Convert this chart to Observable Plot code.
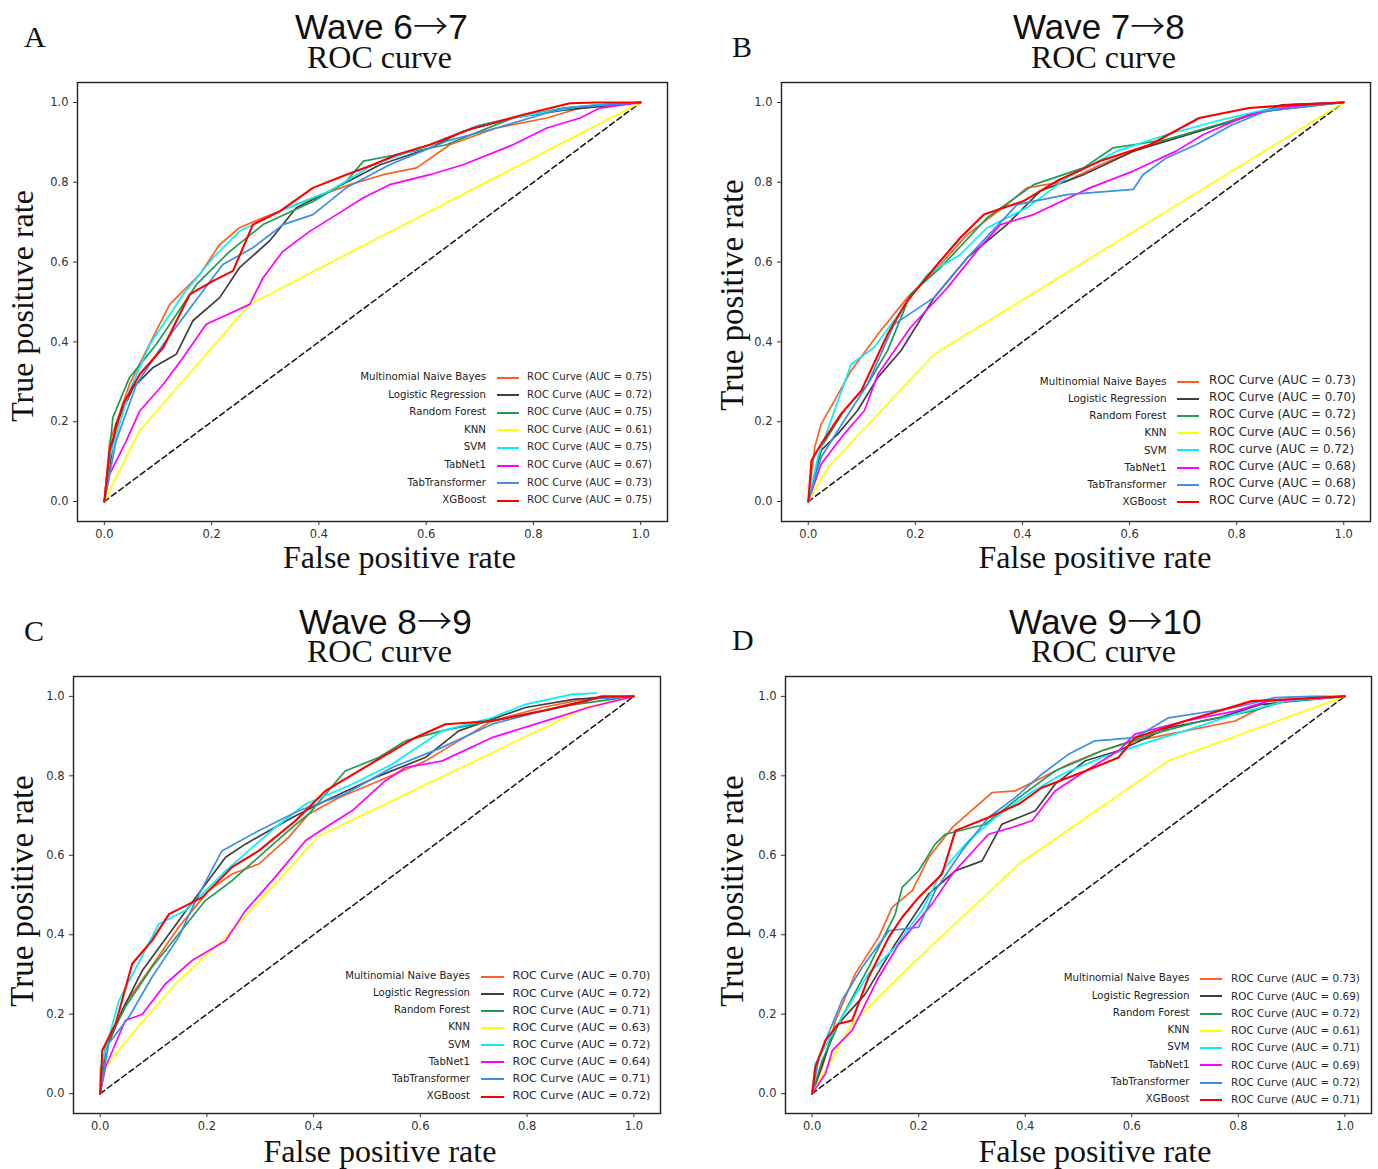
<!DOCTYPE html>
<html><head><meta charset="utf-8">
<script src="https://cdn.jsdelivr.net/npm/d3@7"></script>
<script src="https://cdn.jsdelivr.net/npm/@observablehq/plot@0.6"></script>
<style>
body{margin:0;background:#fff;}
#root{position:relative;width:1378px;height:1169px;overflow:hidden;background:#fff;}
.abs{position:absolute;white-space:nowrap;line-height:1;}
.big{line-height:0.75;}
.serif{font-family:"Liberation Serif","Times New Roman",serif;color:#111;}
.sans{font-family:"Liberation Sans",Arial,sans-serif;color:#111;}
.arrow{font-family:"Noto Sans CJK SC","Noto Sans CJK JP",sans-serif;font-weight:300;}
.leg{font-family:"DejaVu Sans",Verdana,sans-serif;color:#222;}
</style></head>
<body><div id="root"></div>
<script>
// ---------------- data ----------------
const models = ["Multinomial Naive Bayes","Logistic Regression","Random Forest","KNN","SVM","TabNet1","TabTransformer","XGBoost"];
const modelColors = ["#ff5f1f","#3f3f3f","#1e9c56","#ffff00","#00f0ff","#ff00ff","#3a8fe6","#ff0000"];
const tickValues = [0,0.2,0.4,0.6,0.8,1.0];
const chanceLine = [[0,0],[1,1]];

const titleParts = [["Wave 6","7"],["Wave 7","8"],["Wave 8","9"],["Wave 9","10"]];

const legendA = ["ROC Curve (AUC = 0.75)","ROC Curve (AUC = 0.72)","ROC Curve (AUC = 0.75)","ROC Curve (AUC = 0.61)","ROC Curve (AUC = 0.75)","ROC Curve (AUC = 0.67)","ROC Curve (AUC = 0.73)","ROC Curve (AUC = 0.75)"];
const legendB = ["ROC Curve (AUC = 0.73)","ROC Curve (AUC = 0.70)","ROC Curve (AUC = 0.72)","ROC Curve (AUC = 0.56)","ROC curve (AUC = 0.72)","ROC Curve (AUC = 0.68)","ROC Curve (AUC = 0.68)","ROC Curve (AUC = 0.72)"];
const legendC = ["ROC Curve (AUC = 0.70)","ROC Curve (AUC = 0.72)","ROC Curve (AUC = 0.71)","ROC Curve (AUC = 0.63)","ROC Curve (AUC = 0.72)","ROC Curve (AUC = 0.64)","ROC Curve (AUC = 0.71)","ROC Curve (AUC = 0.72)"];
const legendD = ["ROC Curve (AUC = 0.73)","ROC Curve (AUC = 0.69)","ROC Curve (AUC = 0.72)","ROC Curve (AUC = 0.61)","ROC Curve (AUC = 0.71)","ROC Curve (AUC = 0.69)","ROC Curve (AUC = 0.72)","ROC Curve (AUC = 0.71)"];

// [FPR, TPR] points per model, in model order
const rocA = [
 [[0,0],[0.01,0.15],[0.047,0.294],[0.097,0.428],[0.122,0.494],[0.178,0.569],[0.215,0.644],[0.252,0.686],[0.296,0.711],[0.389,0.761],[0.458,0.794],[0.52,0.819],[0.582,0.836],[0.644,0.894],[0.731,0.936],[0.825,0.961],[0.887,0.986],[1,1]],
 [[0,0],[0.022,0.194],[0.054,0.286],[0.091,0.336],[0.134,0.369],[0.165,0.453],[0.215,0.511],[0.252,0.586],[0.308,0.653],[0.358,0.736],[0.42,0.778],[0.514,0.844],[0.607,0.886],[0.669,0.928],[0.762,0.961],[0.856,0.981],[1,1]],
 [[0,0],[0.016,0.211],[0.047,0.311],[0.097,0.394],[0.172,0.544],[0.234,0.627],[0.296,0.694],[0.389,0.752],[0.451,0.802],[0.483,0.853],[0.545,0.869],[0.638,0.894],[0.7,0.928],[0.762,0.961],[0.856,0.986],[0.918,0.994],[1,1]],
 [[0,0],[0.022,0.061],[0.066,0.178],[0.271,0.494],[1,1]],
 [[0,0],[0.01,0.11],[0.047,0.278],[0.085,0.394],[0.147,0.519],[0.203,0.611],[0.252,0.677],[0.327,0.727],[0.42,0.778],[0.501,0.844],[0.607,0.894],[0.7,0.944],[0.794,0.969],[0.887,0.99],[1,1]],
 [[0,0],[0.01,0.069],[0.041,0.152],[0.066,0.227],[0.11,0.294],[0.147,0.361],[0.19,0.444],[0.271,0.494],[0.296,0.561],[0.333,0.627],[0.383,0.677],[0.433,0.719],[0.483,0.761],[0.532,0.794],[0.607,0.819],[0.669,0.844],[0.762,0.894],[0.825,0.936],[0.887,0.961],[0.924,0.986],[1,1]],
 [[0,0],[0.022,0.152],[0.06,0.294],[0.11,0.394],[0.165,0.494],[0.221,0.594],[0.277,0.636],[0.333,0.694],[0.389,0.719],[0.451,0.786],[0.532,0.844],[0.638,0.903],[0.731,0.936],[0.856,0.986],[1,1]],
 [[0,0],[0.01,0.128],[0.035,0.244],[0.066,0.319],[0.11,0.386],[0.159,0.519],[0.203,0.553],[0.24,0.578],[0.277,0.694],[0.327,0.727],[0.389,0.786],[0.451,0.819],[0.501,0.844],[0.545,0.869],[0.607,0.894],[0.688,0.936],[0.781,0.969],[0.868,0.998],[0.918,1.0],[1,1]]
];
const rocB = [
 [[0,0],[0.012,0.136],[0.024,0.194],[0.049,0.253],[0.08,0.328],[0.13,0.419],[0.185,0.511],[0.247,0.594],[0.297,0.669],[0.371,0.744],[0.408,0.786],[0.483,0.803],[0.545,0.844],[0.638,0.894],[0.73,0.928],[0.823,0.969],[0.885,0.99],[1,1]],
 [[0,0],[0.024,0.128],[0.055,0.169],[0.092,0.228],[0.13,0.311],[0.173,0.378],[0.235,0.511],[0.297,0.611],[0.371,0.694],[0.433,0.778],[0.514,0.819],[0.607,0.878],[0.73,0.928],[0.811,0.961],[0.885,0.994],[1,1]],
 [[0,0],[0.024,0.136],[0.067,0.228],[0.111,0.294],[0.148,0.378],[0.191,0.519],[0.247,0.586],[0.334,0.711],[0.421,0.794],[0.514,0.836],[0.569,0.886],[0.607,0.894],[0.669,0.907],[0.743,0.936],[0.854,0.978],[1,1]],
 [[0,0],[0.037,0.086],[0.235,0.369],[1,1]],
 [[0,0],[0.018,0.111],[0.049,0.228],[0.08,0.344],[0.123,0.386],[0.16,0.453],[0.222,0.569],[0.284,0.619],[0.334,0.686],[0.408,0.736],[0.483,0.811],[0.576,0.878],[0.669,0.919],[0.761,0.953],[0.854,0.982],[1,1]],
 [[0,0],[0.024,0.094],[0.067,0.169],[0.105,0.228],[0.13,0.319],[0.191,0.436],[0.26,0.536],[0.315,0.628],[0.359,0.694],[0.421,0.719],[0.526,0.786],[0.607,0.828],[0.687,0.878],[0.737,0.919],[0.823,0.969],[0.904,0.99],[1,1]],
 [[0,0],[0.024,0.111],[0.067,0.203],[0.111,0.294],[0.16,0.444],[0.235,0.511],[0.297,0.611],[0.39,0.744],[0.483,0.769],[0.607,0.782],[0.625,0.819],[0.669,0.861],[0.724,0.894],[0.792,0.944],[0.854,0.978],[1,1]],
 [[0,0],[0.006,0.103],[0.024,0.144],[0.061,0.219],[0.099,0.278],[0.148,0.419],[0.185,0.503],[0.241,0.594],[0.284,0.661],[0.328,0.719],[0.402,0.753],[0.464,0.803],[0.545,0.853],[0.638,0.894],[0.73,0.961],[0.823,0.986],[0.904,0.994],[1,1]]
];
const rocC = [
 [[0,0],[0.01,0.109],[0.047,0.226],[0.091,0.31],[0.147,0.419],[0.203,0.511],[0.247,0.553],[0.297,0.578],[0.353,0.645],[0.391,0.704],[0.447,0.745],[0.522,0.787],[0.609,0.837],[0.672,0.888],[0.734,0.938],[0.828,0.972],[0.921,0.997],[1,1]],
 [[0,0],[0.01,0.109],[0.041,0.209],[0.079,0.31],[0.129,0.402],[0.179,0.494],[0.235,0.595],[0.272,0.628],[0.36,0.695],[0.422,0.737],[0.516,0.796],[0.609,0.846],[0.672,0.913],[0.797,0.972],[0.89,0.993],[1,1]],
 [[0,0],[0.01,0.117],[0.047,0.218],[0.097,0.318],[0.147,0.402],[0.197,0.486],[0.247,0.536],[0.31,0.611],[0.36,0.67],[0.391,0.704],[0.459,0.812],[0.522,0.846],[0.572,0.888],[0.64,0.913],[0.703,0.93],[0.797,0.955],[0.89,0.98],[1,1]],
 [[0,0],[0.01,0.067],[0.06,0.151],[0.141,0.276],[0.235,0.394],[0.328,0.528],[0.409,0.648],[0.846,0.93],[0.909,0.972],[1,1]],
 [[0,0],[0,0.06],[0.035,0.234],[0.11,0.427],[0.16,0.461],[0.235,0.561],[0.328,0.67],[0.385,0.729],[0.472,0.779],[0.547,0.829],[0.64,0.913],[0.734,0.946],[0.797,0.98],[0.884,1.005],[0.93,1.008]],
 [[0,0],[0.01,0.067],[0.047,0.184],[0.079,0.2],[0.122,0.276],[0.172,0.335],[0.235,0.385],[0.272,0.46],[0.328,0.545],[0.385,0.637],[0.422,0.67],[0.472,0.712],[0.534,0.787],[0.572,0.821],[0.64,0.837],[0.734,0.896],[0.853,0.946],[0.915,0.972],[1,1]],
 [[0,0],[0.016,0.126],[0.054,0.193],[0.097,0.293],[0.147,0.394],[0.179,0.486],[0.228,0.611],[0.297,0.662],[0.372,0.712],[0.459,0.754],[0.547,0.821],[0.64,0.871],[0.734,0.93],[0.828,0.963],[0.921,0.993],[1,1]],
 [[0,0],[0.004,0.109],[0.029,0.176],[0.06,0.327],[0.097,0.385],[0.129,0.452],[0.191,0.494],[0.247,0.57],[0.297,0.611],[0.366,0.687],[0.422,0.762],[0.484,0.812],[0.59,0.896],[0.647,0.93],[0.734,0.938],[0.828,0.963],[0.909,0.988],[0.94,1.0],[1,1]]
];
const rocD = [
 [[0,0],[0.019,0.067],[0.044,0.184],[0.081,0.302],[0.125,0.394],[0.15,0.469],[0.188,0.511],[0.219,0.595],[0.263,0.67],[0.313,0.729],[0.338,0.758],[0.381,0.762],[0.419,0.787],[0.481,0.829],[0.544,0.863],[0.606,0.888],[0.638,0.896],[0.794,0.938],[0.856,0.98],[0.906,0.993],[1,1]],
 [[0,0],[0.013,0.05],[0.044,0.168],[0.1,0.251],[0.156,0.377],[0.219,0.503],[0.269,0.561],[0.319,0.586],[0.356,0.678],[0.419,0.712],[0.456,0.779],[0.513,0.838],[0.575,0.863],[0.669,0.921],[0.763,0.946],[0.844,0.98],[1,1]],
 [[0,0],[0.019,0.084],[0.056,0.193],[0.106,0.318],[0.156,0.452],[0.169,0.519],[0.2,0.561],[0.231,0.628],[0.25,0.653],[0.325,0.678],[0.388,0.745],[0.456,0.812],[0.544,0.863],[0.638,0.905],[0.731,0.938],[0.825,0.963],[0.888,0.988],[1,1]],
 [[0,0],[0.075,0.176],[0.181,0.318],[0.388,0.578],[0.669,0.838],[1,1]],
 [[0,0],[0.006,0.075],[0.056,0.193],[0.106,0.302],[0.156,0.369],[0.206,0.461],[0.244,0.561],[0.294,0.637],[0.344,0.695],[0.406,0.754],[0.469,0.804],[0.544,0.846],[0.638,0.888],[0.7,0.913],[0.794,0.955],[0.888,0.988],[1,1]],
 [[0,0],[0.025,0.05],[0.038,0.109],[0.075,0.159],[0.125,0.293],[0.163,0.377],[0.225,0.477],[0.263,0.553],[0.331,0.653],[0.375,0.67],[0.413,0.687],[0.456,0.762],[0.513,0.812],[0.575,0.863],[0.606,0.905],[0.7,0.938],[0.794,0.963],[0.856,0.988],[1,1]],
 [[0,0],[0.013,0.092],[0.056,0.235],[0.094,0.318],[0.144,0.41],[0.2,0.419],[0.231,0.511],[0.281,0.611],[0.331,0.695],[0.381,0.745],[0.431,0.804],[0.481,0.854],[0.531,0.888],[0.606,0.896],[0.669,0.946],[0.794,0.972],[0.869,0.997],[0.938,1.0],[1,1]],
 [[0,0],[0.006,0.067],[0.025,0.134],[0.05,0.176],[0.075,0.184],[0.106,0.293],[0.144,0.394],[0.169,0.444],[0.2,0.494],[0.244,0.553],[0.269,0.662],[0.331,0.695],[0.388,0.729],[0.431,0.77],[0.513,0.812],[0.575,0.846],[0.606,0.896],[0.7,0.938],[0.825,0.988],[1,1]]
];

// ---------------- layout ----------------
const panels = [
 {letter:"A", roc:rocA, legend:legendA, frame:[77,82,590,439],
  letterPos:[24,28], wave:[381.5,14,173], roc2:[379.5,47,145], xlab:[399.5,547,233], ylab:[22,306,232],
  leg:{namesRight:486, nameW:126, line:[497,519], textX:527, textW:125, y0:377, dy:17.6}},
 {letter:"B", roc:rocB, legend:legendB, frame:[781,82,589,439],
  letterPos:[732,38], wave:[1099,14,172], roc2:[1103.5,47,145], xlab:[1095,547,233], ylab:[732,295,232],
  leg:{namesRight:1166.5, nameW:127, line:[1177,1199], textX:1209, textW:147, y0:381, dy:17.2}},
 {letter:"C", roc:rocC, legend:legendC, frame:[73,676,587,437],
  letterPos:[24,622], wave:[385.5,609,173], roc2:[379.5,641,145], xlab:[380,1141,233], ylab:[22,891,232],
  leg:{namesRight:470, nameW:125, line:[481,504], textX:512.5, textW:138, y0:976, dy:17.15}},
 {letter:"D", roc:rocD, legend:legendD, frame:[785,676,586,437],
  letterPos:[732,631], wave:[1105.5,609,193], roc2:[1103.5,641,145], xlab:[1095,1141,233], ylab:[732,891,232],
  leg:{namesRight:1189.5, nameW:126, line:[1200,1222], textX:1231, textW:129, y0:978.5, dy:17.25}}
];

const root = document.getElementById("root");
// cap-top offset (in em) for line-height 0.75
const CAP_SERIF = 0.0505;
// Liberation Sans: ascent minus cap height (em)
const SANS_ASC_MINUS_CAP = 0.905 - 0.716;

function addText(txt, cls, size){
  const el = document.createElement("div");
  el.className = "abs " + cls;
  el.textContent = txt;
  el.style.fontSize = size + "px";
  root.appendChild(el);
  return el;
}
function fit(el, size, target){
  const w = el.offsetWidth;
  const s = size * target / w;
  el.style.fontSize = s + "px";
  return s;
}

panels.forEach((p, pi) => {
  const [fx, fy, fw, fh] = p.frame;
  const mL = 45, mR = 6, mT = 8, mB = 32;
  const marks = [
    Plot.line(chanceLine, {x: d => d[0], y: d => d[1], stroke: "#111", strokeWidth: 1.5, strokeDasharray: "5.5,3.5"})
  ];
  models.forEach((m, i) => {
    marks.push(Plot.line(p.roc[i], {x: d => d[0], y: d => d[1], stroke: modelColors[i],
      strokeWidth: i === 7 ? 2.1 : 1.7, strokeLinejoin: "miter"}));
  });
  marks.push(Plot.frame({stroke: "#222", strokeWidth: 1.4}));
  marks.push(Plot.axisX({ticks: tickValues, tickFormat: d3.format(".1f"), tickSize: 4, tickPadding: 4, label: null}));
  marks.push(Plot.axisY({ticks: tickValues, tickFormat: d3.format(".1f"), tickSize: 4, tickPadding: 5, label: null}));
  const svg = Plot.plot({
    width: fw + mL + mR, height: fh + mT + mB,
    marginLeft: mL, marginRight: mR, marginTop: mT, marginBottom: mB,
    x: {domain: [-0.05, 1.05]}, y: {domain: [-0.05, 1.05]},
    style: {fontFamily: "DejaVu Sans, sans-serif", fontSize: "11.5px", color: "#333", background: "transparent", overflow: "visible"},
    marks
  });
  svg.style.position = "absolute";
  svg.style.left = (fx - mL) + "px";
  svg.style.top = (fy - mT) + "px";
  root.appendChild(svg);

  // panel letter
  let el = addText(p.letter, "serif big", 30);
  el.style.left = p.letterPos[0] + "px";
  el.style.top = (p.letterPos[1] - CAP_SERIF * 30) + "px";

  // title line 1 (sans, full-width arrow); placed by measuring the sans span
  el = document.createElement("div");
  el.className = "abs sans";
  el.style.fontSize = "36px";
  el.style.top = "0px";
  const a = document.createElement("span"); a.textContent = titleParts[pi][0];
  const ar = document.createElement("span"); ar.className = "arrow"; ar.textContent = "→";
  const b = document.createElement("span"); b.textContent = titleParts[pi][1];
  el.append(a, ar, b);
  root.appendChild(el);
  let s = fit(el, 36, p.wave[2]);
  el.style.left = (p.wave[0] - p.wave[2] / 2) + "px";
  const rootTop = root.getBoundingClientRect().top;
  const aTop = a.getBoundingClientRect().top - rootTop;  // content-area top of sans text
  const capTopNow = aTop + SANS_ASC_MINUS_CAP * s;
  el.style.top = (p.wave[1] - capTopNow) + "px";

  // title line 2 (serif)
  el = addText("ROC curve", "serif big", 32);
  s = fit(el, 32, p.roc2[2]);
  el.style.left = (p.roc2[0] - p.roc2[2] / 2) + "px";
  el.style.top = (p.roc2[1] - CAP_SERIF * s) + "px";

  // x label
  el = addText("False positive rate", "serif big", 32);
  s = fit(el, 32, p.xlab[2]);
  el.style.left = (p.xlab[0] - p.xlab[2] / 2) + "px";
  el.style.top = (p.xlab[1] - CAP_SERIF * s) + "px";

  // y label (rotated)
  const ytxt = p.letter === "A" ? "True posituve rate" : "True positive rate";
  el = addText(ytxt, "serif", 32);
  s = fit(el, 32, p.ylab[2]);
  el.style.left = p.ylab[0] + "px";
  el.style.top = p.ylab[1] + "px";
  el.style.transform = "translate(-50%,-50%) rotate(-90deg)";

  // legend
  const L = p.leg;
  const probe = addText(models[0], "leg", 11);
  const nameSize = fit(probe, 11, L.nameW);
  root.removeChild(probe);
  const probe2 = addText(p.legend[0], "leg", 11);
  const textSize = fit(probe2, 11, L.textW);
  root.removeChild(probe2);
  models.forEach((m, i) => {
    const cy = L.y0 + i * L.dy;
    const n = addText(m, "leg", nameSize);
    n.style.right = (1378 - L.namesRight) + "px";
    n.style.top = (cy - 0.5 * nameSize) + "px";
    n.style.color = "#222";
    const ln = document.createElement("div");
    ln.className = "abs";
    ln.style.left = L.line[0] + "px";
    ln.style.width = (L.line[1] - L.line[0]) + "px";
    ln.style.top = (cy - 0.5) + "px";
    ln.style.height = "2px";
    ln.style.background = modelColors[i];
    root.appendChild(ln);
    const t = addText(p.legend[i], "leg", textSize);
    t.style.left = L.textX + "px";
    t.style.top = (cy - 0.5 * textSize) + "px";
    t.style.color = "#2a2a2a";
  });
});
</script>
</body></html>
